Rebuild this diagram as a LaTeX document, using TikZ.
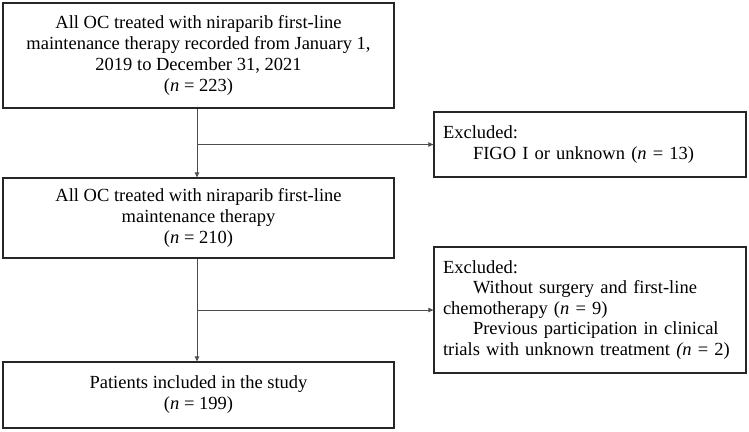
\documentclass[tikz,border=0pt]{standalone}
\usepackage{fontspec}
\setmainfont{Liberation Serif}
\usetikzlibrary{arrows.meta}
\begin{document}
\begin{tikzpicture}[x=1pt,y=-1pt,
  box/.style={draw=black!85, line width=1.3pt, rectangle, inner sep=0pt, align=center,
    font=\fontsize{18.5pt}{21pt}\selectfont},
  exbox/.style={draw=black!85, line width=1.3pt, rectangle, inner xsep=9pt, inner ysep=0pt,
    minimum width=312pt, text width=294pt, align=left,
    font=\fontsize{18.5pt}{20.5pt}\selectfont},
  conn/.style={draw=black!70, line width=0.9pt, -{Triangle[length=5pt,width=4.5pt]}}]
\useasboundingbox (0,0) rectangle (749,431);
\node[box, minimum width=391pt, minimum height=105pt] (b1) at (198.5,55.5)
  {All OC treated with niraparib first-line\\maintenance therapy recorded from January 1,\\2019 to December 31, 2021\\(\textit{n} = 223)};
\node[box, minimum width=391pt, minimum height=80pt] (b2) at (198.5,218)
  {All OC treated with niraparib first-line\\maintenance therapy\\(\textit{n} = 210)};
\node[box, minimum width=391pt, minimum height=66pt] (b3) at (198.5,395)
  {Patients included in the study\\(\textit{n} = 199)};
\node[exbox, minimum height=65pt] (e1) at (590,144.5)
  {Excluded:\\\hspace*{30pt}FIGO I or unknown (\textit{n} = 13)};
\node[exbox, minimum height=126pt] (e2) at (590,310)
  {Excluded:\\\hspace*{30pt}Without surgery and first-line\\chemotherapy (\textit{n} = 9)\\\hspace*{30pt}Previous participation in clinical\\trials with unknown treatment \textit{(n} = 2)};
\coordinate (j1) at ([xshift=-1.5pt]b1.south);
\coordinate (j2) at ([xshift=-1.5pt]b2.south);
\draw[conn] (j1) -- (j1 |- b2.north);
\draw[conn] (j1 |- e1.west) -- (e1.west);
\draw[conn] (j2) -- (j2 |- b3.north);
\draw[conn] (j2 |- e2.west) -- (e2.west);
\end{tikzpicture}
\end{document}
